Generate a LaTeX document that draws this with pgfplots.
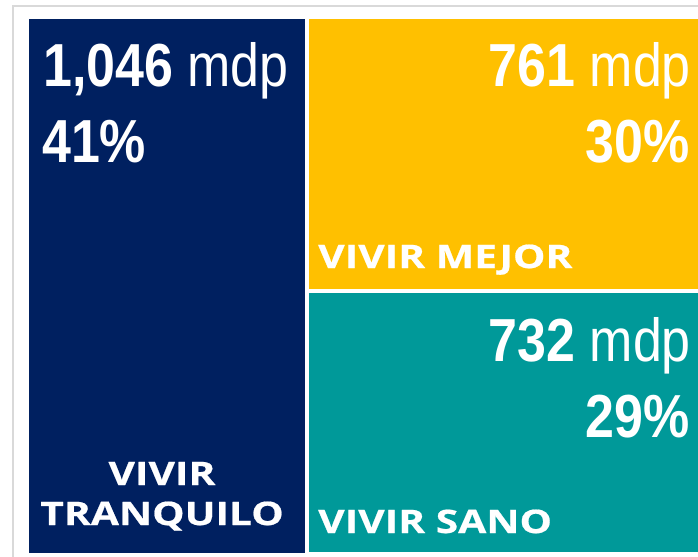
\documentclass[border=0pt]{standalone}
\usepackage{pgfplots}
\pgfplotsset{compat=1.18}
\usepackage{fontspec}
\setmainfont{Liberation Sans}
\newfontfamily\narrow[FakeStretch=0.855]{Liberation Sans}
\newfontfamily\lab[FakeStretch=1.26, BoldFeatures={FakeBold=0.6}]{Open Sans}
\definecolor{navy}{HTML}{002060}
\definecolor{gold}{HTML}{FFC000}
\definecolor{teal2}{HTML}{009999}
\definecolor{frame}{HTML}{D9D9D9}
\newcommand{\bigval}{\narrow\fontsize{61}{61}\selectfont}
\newcommand{\lbl}{\lab\bfseries\fontsize{32.5}{40}\selectfont}
\begin{document}
\begin{tikzpicture}
\begin{axis}[name=ax,
  width=698bp, height=557bp, scale only axis,
  xmin=0, xmax=698, ymin=0, ymax=557, y dir=reverse,
  hide axis, clip=true]
% outer frame
\addplot[draw=frame, line width=1.2pt] coordinates {(13,557) (13,6) (698,6)};
% tiles: VIVIR TRANQUILO 1046, VIVIR MEJOR 761, VIVIR SANO 732
\addplot[fill=navy, draw=none] coordinates {(29,19) (305,19) (305,553) (29,553)} -- cycle;
\addplot[fill=gold, draw=none] coordinates {(309,19) (698,19) (698,289) (309,289)} -- cycle;
\addplot[fill=teal2, draw=none] coordinates {(309,293) (698,293) (698,552) (309,552)} -- cycle;
% values
\node[anchor=base west, inner sep=0, text=white] at (axis cs:43,87) {\bigval\textbf{1,046} mdp};
\node[anchor=base west, inner sep=0, text=white] at (axis cs:42,162) {\bigval\textbf{41\%}};
\node[anchor=base east, inner sep=0, text=white] at (axis cs:691,87) {\bigval\textbf{761} mdp};
\node[anchor=base east, inner sep=0, text=white] at (axis cs:690,162) {\bigval\textbf{30\%}};
\node[anchor=base east, inner sep=0, text=white] at (axis cs:691,361) {\bigval\textbf{732} mdp};
\node[anchor=base east, inner sep=0, text=white] at (axis cs:690,437) {\bigval\textbf{29\%}};
% labels
\node[anchor=base, inner sep=0, text=white] at (axis cs:162,485) {\lbl VIVIR};
\node[anchor=base, inner sep=0, text=white] at (axis cs:162,525) {\lbl TRANQUILO};
\node[anchor=base west, inner sep=0, text=white] at (axis cs:318,268) {\lbl VIVIR MEJOR};
\node[anchor=base west, inner sep=0, text=white] at (axis cs:318,533) {\lbl VIVIR SANO};
\end{axis}
\pgfresetboundingbox
\path (ax.south west) rectangle (ax.north east);
\end{tikzpicture}
\end{document}
